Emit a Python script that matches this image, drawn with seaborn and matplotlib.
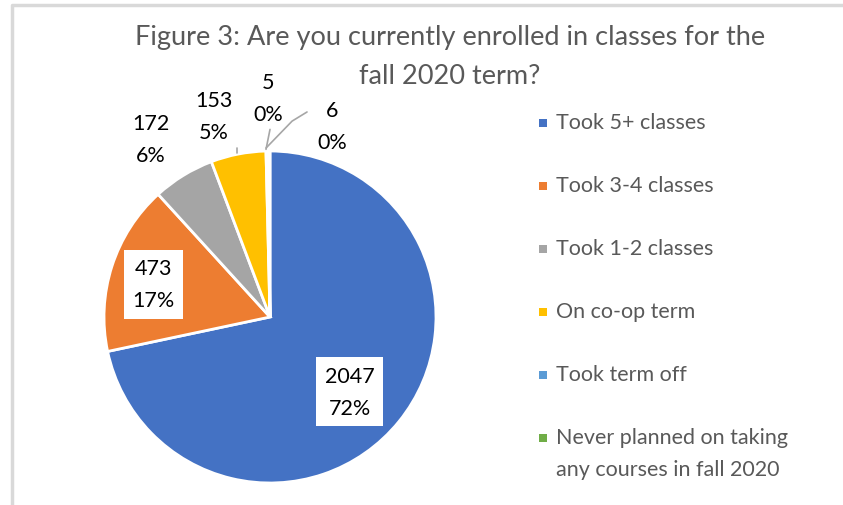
import matplotlib
matplotlib.use("Agg")
import matplotlib.pyplot as plt
import seaborn as sns
from matplotlib.patches import Rectangle
from matplotlib.lines import Line2D

# survey answers, fall 2020
categories = ["Took 5+ classes", "Took 3-4 classes", "Took 1-2 classes",
              "On co-op term", "Took term off",
              "Never planned on taking\nany courses in fall 2020"]
counts = [2047, 473, 172, 153, 5, 6]
colors = ["#4472C4", "#ED7D31", "#A5A5A5", "#FFC000", "#5B9BD5", "#70AD47"]
title_lines = ["Figure 3: Are you currently enrolled in classes for the",
               "fall 2020 term?"]

# where each data label sits (pie radius = 1) and whether it gets a white box
label_pos = [(0.48, -0.45), (-0.70, 0.196), (-0.72, 1.07),
             (-0.34, 1.21), (-0.01, 1.32), (0.373, 1.148)]
label_box = [True, True, False, False, False, False]

sns.set_style("white")
plt.rcParams["font.family"] = ["Lato", "DejaVu Sans"]

W, H = 843, 506
fig = plt.figure(figsize=(W / 100, H / 100), dpi=100)
fig.patch.set_facecolor("white")

# chart frame (only left and top edges visible in the crop)
fig.add_artist(Line2D([12 / W, 12 / W, 1.0], [0.0, 1 - 6 / H, 1 - 6 / H],
                      transform=fig.transFigure, color="#D9D9D9", lw=2.5))

cx, cy, r = 270, 318, 166
ax = fig.add_axes([(cx - r) / W, (H - cy - r) / H, 2 * r / W, 2 * r / H])
wedges, _ = ax.pie(counts, colors=colors, startangle=90, counterclock=False,
                   radius=1, wedgeprops=dict(edgecolor="white", linewidth=2))
ax.set_xlim(-1, 1)
ax.set_ylim(-1, 1)
ax.set_axis_off()

total = sum(counts)
for n, (x, y), boxed in zip(counts, label_pos, label_box):
    txt = f"{n}\n{round(100 * n / total)}%"
    bbox = dict(facecolor="white", edgecolor="none", pad=6) if boxed else None
    ax.text(x, y, txt, ha="center", va="center", fontsize=15.5,
            color="black", linespacing=1.75, bbox=bbox, clip_on=False)

# leader lines for the small slices
lead = dict(color="#A6A6A6", lw=1.2, clip_on=False)
ax.plot([-0.20, -0.20], [0.99, 1.02], **lead)
ax.plot([-0.024, 0.0], [1.01, 1.13], **lead)
ax.plot([-0.024, 0.133, 0.223], [1.018, 1.18, 1.235], **lead)

# title, one text per line
for line, ty in zip(title_lines, [38, 76]):
    fig.text(450 / W, 1 - ty / H, line, ha="center", va="center",
             fontsize=19.5, color="#595959")

# legend, drawn by hand so the marker lines up with the first text line
row_y = 124
for cat, c in zip(categories, colors):
    fig.add_artist(Rectangle(((543 - 4) / W, 1 - (row_y + 4) / H), 8 / W, 8 / H,
                             transform=fig.transFigure, facecolor=c,
                             edgecolor="none"))
    fig.text(556 / W, 1 - (row_y - 11) / H, cat, ha="left", va="top",
             fontsize=15.5, color="#595959", linespacing=1.75)
    row_y += 63

fig.savefig("out.png", dpi=100)
